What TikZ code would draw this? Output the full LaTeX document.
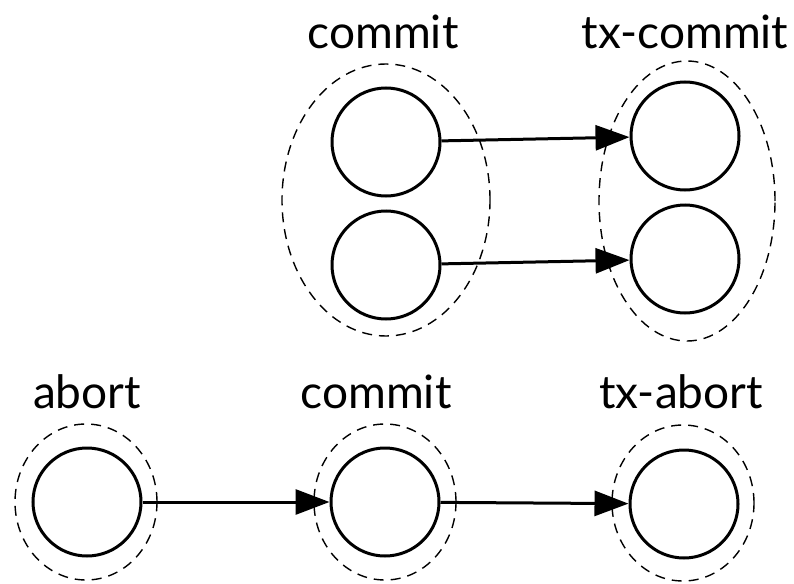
\documentclass[tikz,border=0pt]{standalone}
\usepackage{fontspec}
\setmainfont{Lato}
\usetikzlibrary{arrows.meta,shapes.geometric}
\begin{document}
\begin{tikzpicture}[x=1pt,y=-1pt,
  state/.style={circle,draw,line width=3pt,minimum size=108pt,inner sep=0pt},
  group/.style={ellipse,draw,line width=1.4pt,dash pattern=on 10pt off 7pt,inner sep=0pt},
  tag/.style={font=\fontsize{46}{52}\selectfont,anchor=base,inner sep=0pt},
  flow/.style={line width=3pt,-{Triangle[length=34pt,width=25pt]}}]
\useasboundingbox (0,0) rectangle (794,583);

% dashed groupings
\node[group,minimum width=208pt,minimum height=272pt] (g1) at (386,200) {};
\node[group,minimum width=176pt,minimum height=280pt] (g2) at (687,201) {};
\node[group,minimum width=142pt,minimum height=156pt] (g3) at (86,502) {};
\node[group,minimum width=142pt,minimum height=156pt] (g4) at (385,502) {};
\node[group,minimum width=142pt,minimum height=156pt] (g5) at (683,503) {};

% states
\node[state] (c1) at (386,142) {};
\node[state] (c2) at (386,265) {};
\node[state] (t1) at (685,136) {};
\node[state] (t2) at (685,259) {};
\node[state] (a) at (87,502) {};
\node[state] (b) at (385,502) {};
\node[state] (x) at (684,504) {};

% labels
\node[tag] (l1) at (383,49) {commit};
\node[tag] (l2) at (685,49) {tx-commit};
\node[tag] (l3) at (87,408) {abort};
\node[tag] (l4) at (376,408) {commit};
\node[tag] (l5) at (681,408) {tx-abort};

% transitions
\draw[flow] (c1) -- (t1);
\draw[flow] (c2) -- (t2);
\draw[flow] (a) -- (b);
\draw[flow] (b) -- (x);
\end{tikzpicture}
\end{document}
